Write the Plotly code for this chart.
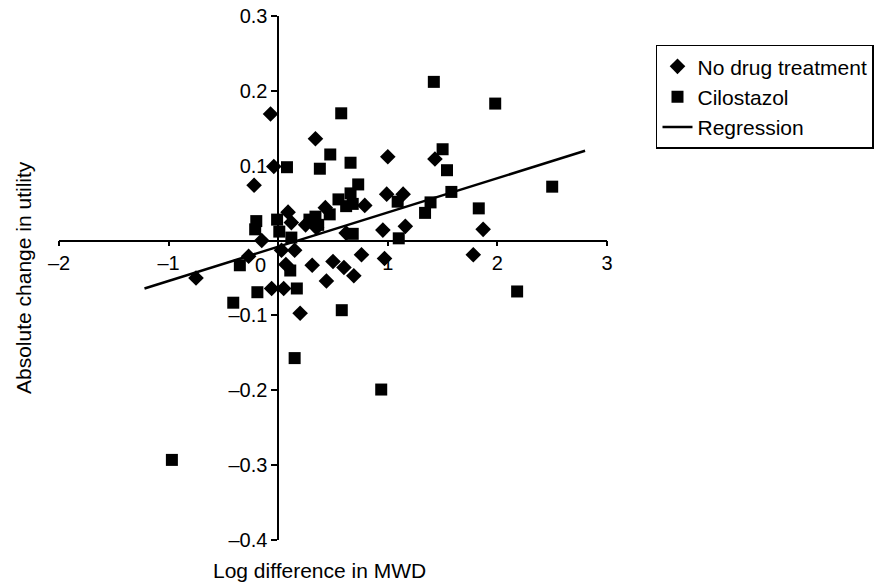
import plotly.graph_objects as go

# No drug treatment (diamonds)
nodrug_x = [-0.07, -0.04, -0.22, -0.15, -0.27, -0.75, 0.09, 0.12, 0.03, 0.15,
            0.07, -0.06, 0.05, 0.20, 0.34, 0.31, 0.44, 0.50, 0.60, 0.69,
            0.76, 0.97, 1.78, 1.00, 0.99, 1.14, 0.79, 0.43, 0.35, 0.25,
            0.62, 0.955, 1.16, 1.43, 1.87]
nodrug_y = [0.169, 0.099, 0.074, 0.000, -0.021, -0.050, 0.038, 0.024, -0.013, -0.013,
            -0.032, -0.064, -0.064, -0.097, 0.136, -0.033, -0.054, -0.028, -0.036, -0.047,
            -0.019, -0.024, -0.019, 0.112, 0.062, 0.062, 0.047, 0.044, 0.017, 0.021,
            0.010, 0.014, 0.019, 0.109, 0.015]

# Cilostazol (squares)
cilo_x = [-0.97, -0.20, -0.21, -0.01, 0.01, 0.12, -0.35, 0.11, -0.19, 0.17,
          -0.41, 0.15, 0.08, 0.38, 0.575, 0.475, 0.66, 0.73, 0.66, 1.09,
          0.55, 0.62, 0.68, 0.47, 0.34, 0.285, 0.365, 0.68, 1.10, 1.42,
          1.98, 1.50, 1.54, 1.58, 2.50, 1.39, 1.34, 1.83, 2.18, 0.58, 0.94]
cilo_y = [-0.293, 0.026, 0.015, 0.028, 0.012, 0.004, -0.033, -0.040, -0.069, -0.064,
          -0.083, -0.157, 0.098, 0.096, 0.170, 0.115, 0.104, 0.075, 0.063, 0.052,
          0.055, 0.046, 0.049, 0.035, 0.032, 0.028, 0.021, 0.009, 0.003, 0.212,
          0.183, 0.122, 0.094, 0.065, 0.072, 0.051, 0.037, 0.043, -0.068, -0.093, -0.199]

# Regression line endpoints
reg_x = [-1.22, 2.80]
reg_y = [-0.064, 0.120]

x_ticks = [-2, -1, 1, 2, 3]
x_ticktext = ["\u20132", "\u20131", "1", "2", "3"]
y_ticks = [0.3, 0.2, 0.1, -0.1, -0.2, -0.3, -0.4]
y_ticktext = ["0.3", "0.2", "0.1", "\u20130.1", "\u20130.2", "\u20130.3", "\u20130.4"]

FONT = "Liberation Sans, Arial, Helvetica, sans-serif"

fig = go.Figure()
fig.add_trace(go.Scatter(x=nodrug_x, y=nodrug_y, mode="markers", name="No drug treatment",
                         marker=dict(symbol="diamond", size=12, color="black")))
fig.add_trace(go.Scatter(x=cilo_x, y=cilo_y, mode="markers", name="Cilostazol",
                         marker=dict(symbol="square", size=12, color="black")))
fig.add_trace(go.Scatter(x=reg_x, y=reg_y, mode="lines", name="Regression",
                         line=dict(color="black", width=2.5)))

fig.update_layout(
    width=877, height=588,
    margin=dict(l=59, r=270, t=16, b=48, autoexpand=False),
    paper_bgcolor="white", plot_bgcolor="white",
    font=dict(family=FONT, size=20, color="black"),
    showlegend=True,
    legend=dict(xref="container", yref="container", x=0.748, y=0.924,
                xanchor="left", yanchor="top",
                bordercolor="black", borderwidth=1.5, bgcolor="white",
                font=dict(size=21, family=FONT, color="black"),
                itemwidth=30, tracegroupgap=0),
    xaxis=dict(range=[-2, 3], anchor="free", position=0.5714, automargin=False,
               showgrid=False, zeroline=False, showline=True,
               linecolor="black", linewidth=1.5,
               ticks="outside", ticklen=5, tickwidth=1.5, tickcolor="black",
               tickvals=x_ticks, ticktext=x_ticktext,
               tickfont=dict(size=20, family=FONT, color="black")),
    yaxis=dict(range=[-0.4, 0.3], anchor="free", position=0.4, automargin=False,
               showgrid=False, zeroline=False, showline=True,
               linecolor="black", linewidth=1.5,
               ticks="outside", ticklen=6, tickwidth=1.5, tickcolor="black",
               tickvals=y_ticks, ticktext=y_ticktext,
               tickfont=dict(size=20, family=FONT, color="black")),
    annotations=[
        dict(text="0", x=-0.16, y=-0.032, xref="x", yref="y", showarrow=False,
             font=dict(size=20, family=FONT, color="black")),
        dict(text="Log difference in MWD", x=0.4745, y=-0.0573, xref="paper", yref="paper",
             showarrow=False, xanchor="center", yanchor="middle",
             font=dict(size=21, family=FONT, color="black")),
        dict(text="Absolute change in utility", x=(23 - 59) / 548, y=0.5, xref="paper", yref="paper",
             showarrow=False, textangle=-90, xanchor="center", yanchor="middle",
             font=dict(size=21, family=FONT, color="black")),
    ],
)

fig.write_html("out.html")
